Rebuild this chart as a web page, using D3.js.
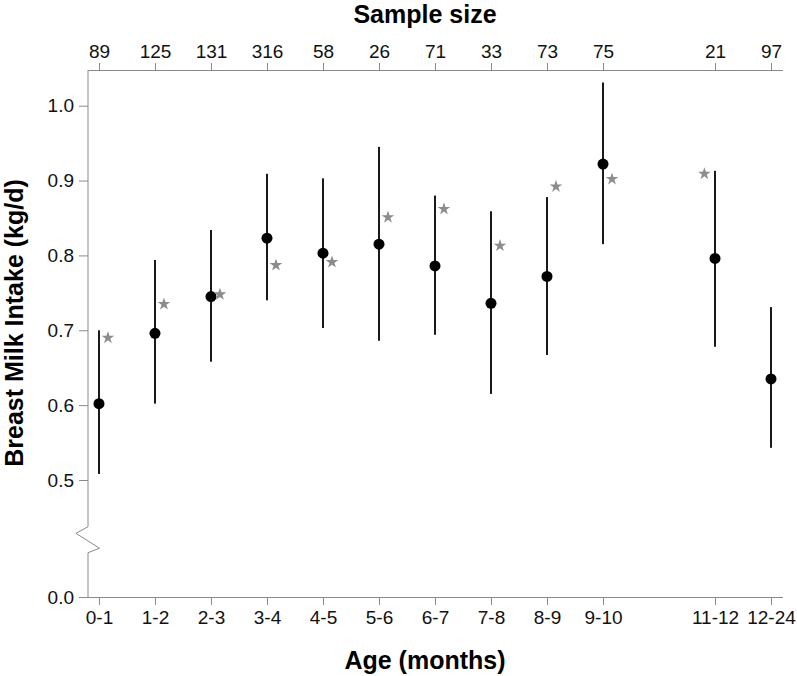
<!DOCTYPE html>
<html>
<head>
<meta charset="utf-8">
<script src="https://cdn.jsdelivr.net/npm/d3@7"></script>
<style>
  body { margin: 0; background: #fff; }
  text { font-family: "Liberation Sans", Arial, sans-serif; }
  .axis path, .axis line { stroke: #8a8a8a; }
  .axis text { font-size: 19px; fill: #111; }
  .title { font-size: 25px; font-weight: bold; fill: #000; }
</style>
</head>
<body>
<script>
// Data
const ages = ['0-1', '1-2', '2-3', '3-4', '4-5', '5-6', '6-7', '7-8', '8-9', '9-10', '11-12', '12-24'];
const agePos = [0, 1, 2, 3, 4, 5, 6, 7, 8, 9, 11, 12];
const sampleSizes = [89, 125, 131, 316, 58, 26, 71, 33, 73, 75, 21, 97];
const intake = [0.602, 0.696, 0.745, 0.823, 0.803, 0.815, 0.786, 0.736, 0.772, 0.922, 0.796, 0.635];
const upper = [0.700, 0.794, 0.834, 0.909, 0.903, 0.945, 0.880, 0.859, 0.878, 1.031, 0.913, 0.731];
const lower = [0.508, 0.602, 0.658, 0.740, 0.703, 0.686, 0.694, 0.615, 0.667, 0.815, 0.678, 0.543];
const reference = [0.690, 0.735, 0.748, 0.787, 0.791, 0.851, 0.862, 0.813, 0.892, 0.902, 0.909, null];
const starsOnLeft = ['11-12'];
const yTicks = [0.0, 0.5, 0.6, 0.7, 0.8, 0.9, 1.0];

// Canvas
const width = 797;
const height = 676;
const plotLeft = 88;
const plotRight = 783;
const plotTop = 70;
const plotBottom = 597;

const svg = d3.select('body')
  .append('svg')
    .attr('width', width)
    .attr('height', height);

// Scales
const x = d3.scaleLinear()
  .domain([-0.196, 12.214])
  .range([plotLeft, plotRight]);

// broken axis: 0 sits below the break, 0.5-1.0 above it
const y = d3.scaleLinear()
  .domain([0, 0.5, 1.0])
  .range([plotBottom, 480, 105.7]);

// Bottom axis
const xAxis = svg.append('g')
    .attr('class', 'axis')
    .attr('transform', `translate(0,${plotBottom})`)
    .call(d3.axisBottom(x)
      .tickValues(agePos)
      .tickFormat((d, i) => ages[i])
      .tickSize(8)
      .tickSizeOuter(0)
      .tickPadding(6));
xAxis.select('.domain').attr('d', `M${plotLeft},0.5H${plotRight}`);

// Top axis
const topAxis = svg.append('g')
    .attr('class', 'axis')
    .attr('transform', `translate(0,${plotTop})`)
    .call(d3.axisTop(x)
      .tickValues(agePos)
      .tickFormat((d, i) => sampleSizes[i])
      .tickSize(7)
      .tickSizeOuter(0)
      .tickPadding(5));
topAxis.select('.domain').attr('d', `M${plotLeft},0.5H${plotRight}`);

// Left axis with zigzag break
const yAxis = svg.append('g')
    .attr('class', 'axis')
    .attr('transform', `translate(${plotLeft},0)`)
    .call(d3.axisLeft(y)
      .tickValues(yTicks)
      .tickFormat(d3.format('.1f'))
      .tickSize(9)
      .tickPadding(5));
yAxis.select('.domain')
    .attr('fill', 'none')
    .attr('d', `M0,${plotTop}V526.7L-12,533.3L11.5,548.3L0,552.7V${plotBottom}`);

// Error bars
svg.selectAll('line.bar')
    .data(ages)
  .enter().append('line')
    .attr('class', 'bar')
    .attr('x1', (d, i) => x(agePos[i]))
    .attr('x2', (d, i) => x(agePos[i]))
    .attr('y1', (d, i) => y(upper[i]))
    .attr('y2', (d, i) => y(lower[i]))
    .attr('stroke', '#1a1a1a')
    .attr('stroke-width', 2);

// Means
svg.selectAll('circle.mean')
    .data(ages)
  .enter().append('circle')
    .attr('class', 'mean')
    .attr('cx', (d, i) => x(agePos[i]))
    .attr('cy', (d, i) => y(intake[i]))
    .attr('r', 5.5)
    .attr('fill', '#000');

// Reference stars
const star = d3.symbol().type(d3.symbolStar).size(50);
svg.selectAll('path.star')
    .data(ages.filter((d, i) => reference[i] != null))
  .enter().append('path')
    .attr('class', 'star')
    .attr('d', star)
    .attr('fill', '#8c8c8c')
    .attr('transform', (d) => {
      const i = ages.indexOf(d);
      const shift = starsOnLeft.includes(d) ? -0.19 : 0.16;
      return `translate(${x(agePos[i] + shift)},${y(reference[i])})`;
    });

// Titles
svg.append('text')
    .attr('class', 'title')
    .attr('x', 425)
    .attr('y', 23)
    .attr('text-anchor', 'middle')
    .text('Sample size');

svg.append('text')
    .attr('class', 'title')
    .attr('x', 425)
    .attr('y', 669)
    .attr('text-anchor', 'middle')
    .text('Age (months)');

svg.append('text')
    .attr('class', 'title')
    .attr('transform', 'translate(23,323) rotate(-90)')
    .attr('text-anchor', 'middle')
    .text('Breast Milk Intake (kg/d)');
</script>
</body>
</html>
